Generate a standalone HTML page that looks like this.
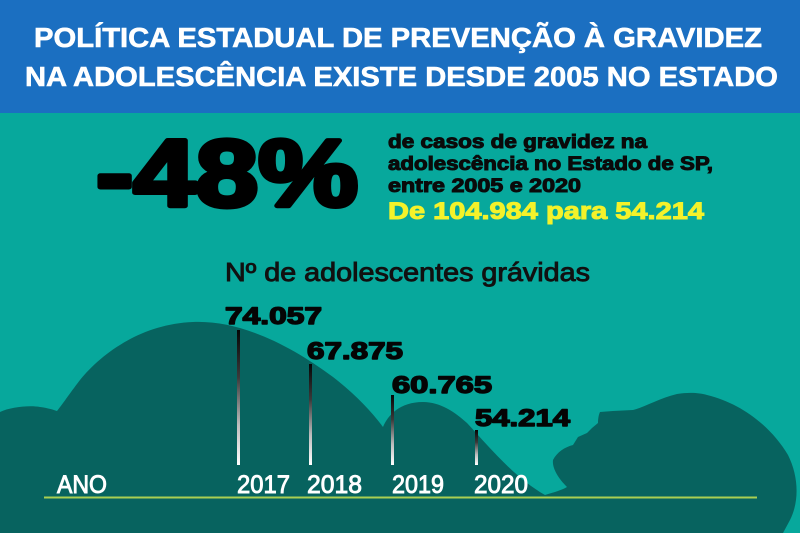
<!DOCTYPE html>
<html>
<head>
<meta charset="utf-8">
<style>
  html,body{margin:0;padding:0;background:#07a89c;}
  svg{display:block;}
  text{font-family:"Liberation Sans", sans-serif;}
</style>
</head>
<body>
<svg width="800" height="533" viewBox="0 0 800 533" xmlns="http://www.w3.org/2000/svg">
  <defs>
    <linearGradient id="bar" x1="0" y1="0" x2="0" y2="1">
      <stop offset="0" stop-color="#050505"/>
      <stop offset="0.35" stop-color="#3a3a3a"/>
      <stop offset="0.7" stop-color="#bcbcbc"/>
      <stop offset="1" stop-color="#ffffff"/>
    </linearGradient>
  </defs>

  <!-- backgrounds -->
  <rect x="0" y="0" width="800" height="533" fill="#07a89c"/>
  <rect x="0" y="0" width="800" height="113" fill="#1b6fc1"/>

  <!-- title -->
  <g font-size="28" font-weight="bold" fill="#ffffff" stroke="#ffffff" stroke-width="0.6">
    <text x="34" y="47" textLength="728" lengthAdjust="spacingAndGlyphs">POLÍTICA ESTADUAL DE PREVENÇÃO À GRAVIDEZ</text>
    <text x="25" y="86" textLength="753" lengthAdjust="spacingAndGlyphs">NA ADOLESCÊNCIA EXISTE DESDE 2005 NO ESTADO</text>
  </g>

  <!-- silhouette -->
  <path fill="#07635f" d="M0,412 C10,407 30,405 40,407 C48,408 54,410 57,411 C62,405 70,393 80,380 C100,355 140,324 193,322 C240,320 290,345 333,377 C355,394 372,412 383,427 C388,415 400,402 423,402 C440,402 455,412 467,423 C490,448 515,478 545,495 C555,492 562,490 567,487 C558,478 552,468 553,460 C557,452 565,447 573,445 L578,437 L587,433 L592,428 L598,423 C598,418 599,414 600,412 L613,411 L633,410 C645,407 660,398 677,394 C690,392 700,393 707,395 C740,403 770,425 788,455 C798,475 800,500 790,520 L783,533 L0,533 Z"/>

  <!-- big stat -->
  <text x="96" y="206" font-size="95" font-weight="bold" fill="#000" stroke="#000" stroke-width="5" stroke-linejoin="round" textLength="262" lengthAdjust="spacingAndGlyphs">-48%</text>

  <g font-weight="bold" fill="#0a0a0a" stroke="#0a0a0a" stroke-width="1">
    <text x="388" y="148" font-size="19" textLength="259" lengthAdjust="spacingAndGlyphs">de casos de gravidez na</text>
    <text x="388" y="170" font-size="19" textLength="325" lengthAdjust="spacingAndGlyphs">adolescência no Estado de SP,</text>
    <text x="388" y="192" font-size="19" textLength="193" lengthAdjust="spacingAndGlyphs">entre 2005 e 2020</text>
  </g>
  <text x="388" y="219" font-size="24" font-weight="bold" fill="#f4f22a" stroke="#f4f22a" stroke-width="1" textLength="316" lengthAdjust="spacingAndGlyphs">De 104.984 para 54.214</text>

  <text x="225" y="281" font-size="26" fill="#111" stroke="#111" stroke-width="0.9" textLength="365" lengthAdjust="spacingAndGlyphs">Nº de adolescentes grávidas</text>

  <!-- bars -->
  <rect x="237" y="330" width="3" height="135" fill="url(#bar)"/>
  <rect x="309" y="364" width="3" height="101" fill="url(#bar)"/>
  <rect x="391" y="395" width="3" height="70" fill="url(#bar)"/>
  <rect x="475" y="430" width="3" height="35" fill="url(#bar)"/>

  <!-- values -->
  <g font-size="24" font-weight="bold" fill="#050505" stroke="#050505" stroke-width="1.4" stroke-linejoin="round">
    <text x="225" y="324" textLength="97" lengthAdjust="spacingAndGlyphs">74.057</text>
    <text x="307" y="359" textLength="96" lengthAdjust="spacingAndGlyphs">67.875</text>
    <text x="392" y="393" textLength="100" lengthAdjust="spacingAndGlyphs">60.765</text>
    <text x="475" y="426" textLength="95" lengthAdjust="spacingAndGlyphs">54.214</text>
  </g>

  <!-- axis line -->
  <line x1="44" y1="497.5" x2="757" y2="497.5" stroke="#a9cf52" stroke-width="2"/>

  <!-- year labels -->
  <g font-size="25" fill="#ffffff" stroke="#ffffff" stroke-width="0.9">
    <text x="57" y="493" textLength="50" lengthAdjust="spacingAndGlyphs">ANO</text>
    <text x="237" y="493" textLength="53" lengthAdjust="spacingAndGlyphs">2017</text>
    <text x="307" y="493" textLength="55" lengthAdjust="spacingAndGlyphs">2018</text>
    <text x="392" y="493" textLength="52" lengthAdjust="spacingAndGlyphs">2019</text>
    <text x="474" y="493" textLength="54" lengthAdjust="spacingAndGlyphs">2020</text>
  </g>
</svg>
</body>
</html>
